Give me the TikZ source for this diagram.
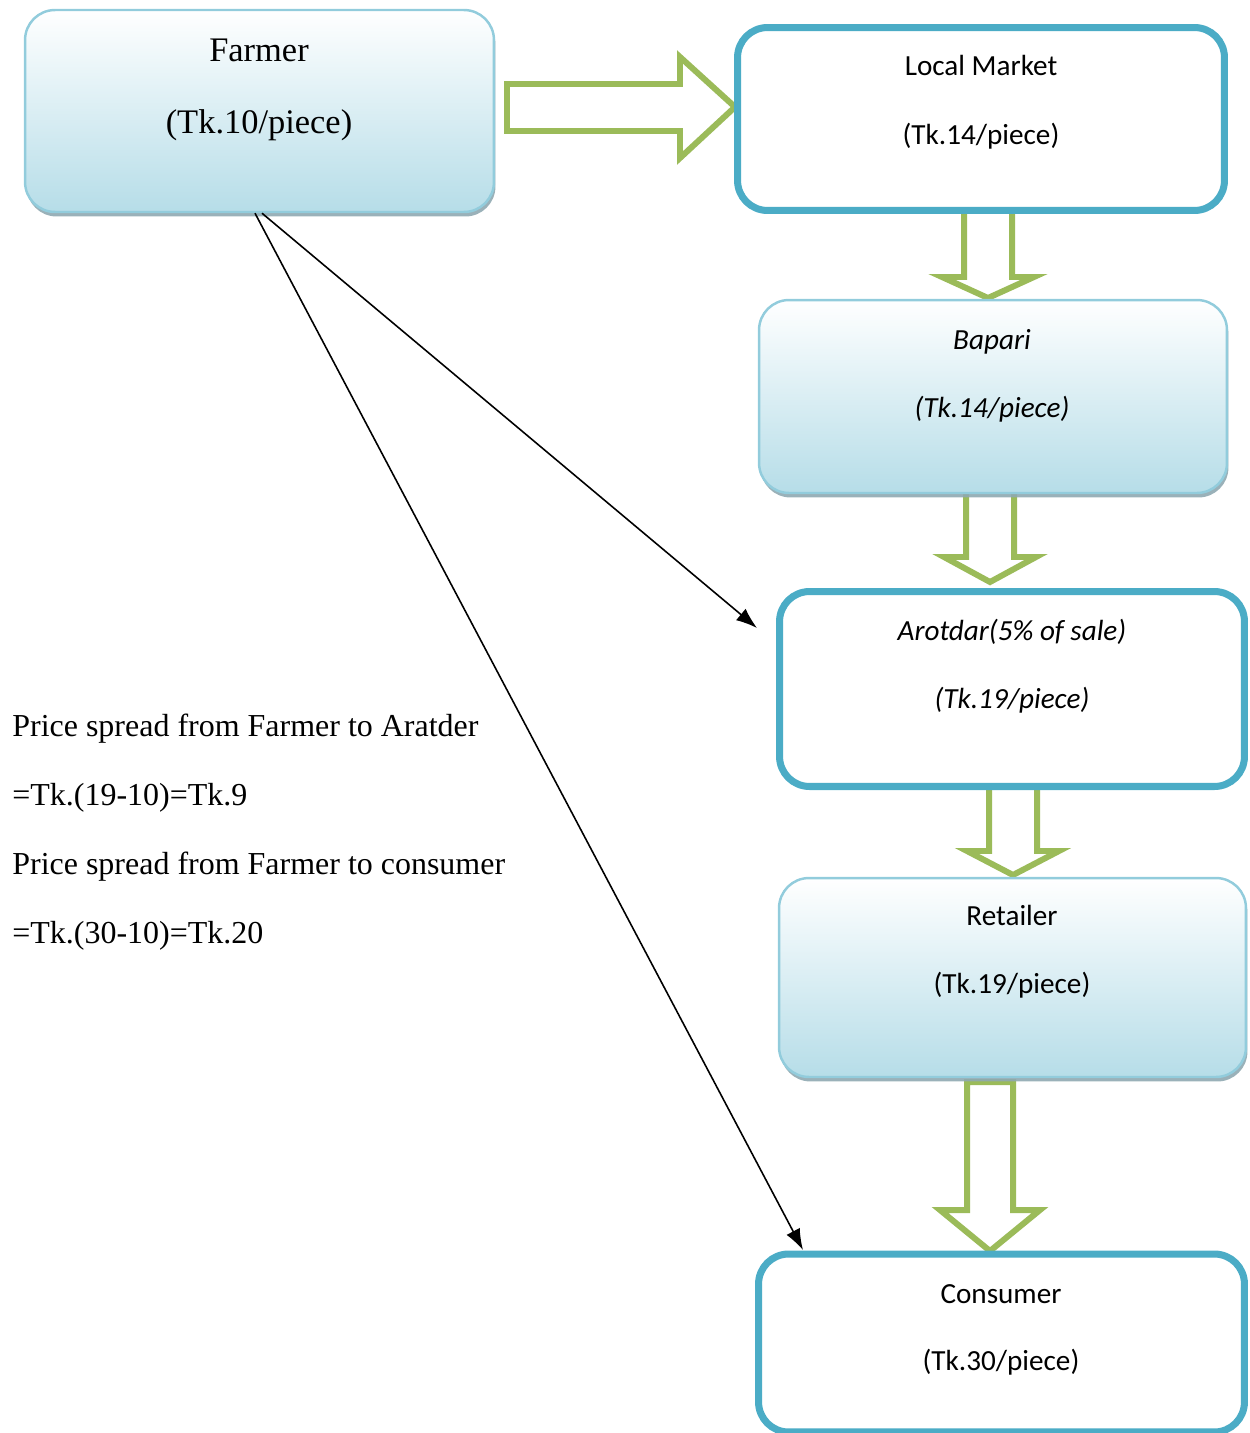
\documentclass[tikz,border=0pt]{standalone}
\usepackage{fontspec}
\setmainfont{Liberation Serif}
\newfontfamily\calibri{Carlito}
\usetikzlibrary{arrows.meta,shadows}
\definecolor{accblue}{HTML}{4BACC6}
\definecolor{lightbord}{HTML}{92CCDC}
\definecolor{gradbot}{HTML}{B6DDE8}
\definecolor{gradmid}{HTML}{DCEFF4}
\definecolor{leafgreen}{HTML}{9BBB59}
\definecolor{shadowgray}{HTML}{8FA9B1}
\tikzset{
  gradbox/.style={draw=lightbord, line width=1.4pt, rounded corners=0.6cm,
    top color=white, middle color=gradmid, bottom color=gradbot,
    drop shadow={shadow xshift=0.03cm, shadow yshift=-0.09cm, fill=shadowgray, opacity=0.9}},
  thickbox/.style={draw=accblue, line width=4pt, rounded corners=0.6cm, fill=white},
  blockarrow/.style={draw=leafgreen, line width=3.4pt, fill=white, miter limit=20},
  conn/.style={line width=0.9pt, -{Latex[length=0.42cm,width=0.3cm]}},
  serifbig/.style={font=\fontsize{19.6}{23}\selectfont, anchor=base, inner sep=0pt},
  sans/.style={font=\calibri\fontsize{16.6}{20}\selectfont, anchor=base, inner sep=0pt},
  sansit/.style={font=\calibri\itshape\fontsize{16.6}{20}\selectfont, anchor=base, inner sep=0pt},
  spread/.style={font=\fontsize{18.2}{22}\selectfont, anchor=base west, inner sep=0pt}
}
\begin{document}
\begin{tikzpicture}[x=0.02cm,y=-0.02cm]
\useasboundingbox (0,0) rectangle (1249,1433);

% block arrows (drawn first, boxes overlap their ends)
\draw[blockarrow] (507,84) -- (680,84) -- (680,57) -- (735,107) -- (680,158) -- (680,131) -- (507,131) -- cycle;
\draw[blockarrow] (964,208) -- (1012,208) -- (1012,277) -- (1034,277) -- (988,298) -- (942,277) -- (964,277) -- cycle;
\draw[blockarrow] (966,490) -- (1014,490) -- (1014,557) -- (1036,557) -- (990,582) -- (944,557) -- (966,557) -- cycle;
\draw[blockarrow] (989,784) -- (1037,784) -- (1037,851) -- (1059,851) -- (1013,875) -- (967,851) -- (989,851) -- cycle;
\draw[blockarrow] (967,1082) -- (1013,1082) -- (1013,1210) -- (1040,1210) -- (990,1251) -- (940,1210) -- (967,1210) -- cycle;

% boxes
\node[gradbox, minimum width=9.38cm, minimum height=4.04cm] (farmer) at (259.5,111) {};
\node[thickbox, minimum width=9.74cm, minimum height=3.66cm] (local) at (981,119) {};
\node[gradbox, minimum width=9.36cm, minimum height=3.86cm] (bapari) at (993,396.5) {};
\node[thickbox, minimum width=9.3cm, minimum height=3.9cm] (arotdar) at (1012,689) {};
\node[gradbox, minimum width=9.34cm, minimum height=3.98cm] (retailer) at (1012.5,977.5) {};
\node[thickbox, minimum width=9.72cm, minimum height=3.56cm] (consumer) at (1001.5,1343) {};

% box texts
\node[serifbig] (farmerA) at (259,62) {Farmer};
\node[serifbig] (farmerB) at (259,133) {(Tk.10/piece)};
\node[sans] (localA) at (981,76) {Local Market};
\node[sans] (localB) at (981,144) {(Tk.14/piece)};
\node[sansit] (bapariA) at (992,349) {Bapari};
\node[sansit] (bapariB) at (992,417) {(Tk.14/piece)};
\node[sansit] (arotdarA) at (1012,640) {Arotdar(5\% of sale)};
\node[sansit] (arotdarB) at (1012,708) {(Tk.19/piece)};
\node[sans] (retailerA) at (1012,925) {Retailer};
\node[sans] (retailerB) at (1012,993) {(Tk.19/piece)};
\node[sans] (consumerA) at (1001,1303) {Consumer};
\node[sans] (consumerB) at (1001,1370) {(Tk.30/piece)};

% price spread text
\node[spread] (ps1) at (12,736) {Price spread from Farmer to Aratder};
\node[spread] (ps2) at (12,805) {=Tk.(19-10)=Tk.9};
\node[spread] (ps3) at (12,874) {Price spread from Farmer to consumer};
\node[spread] (ps4) at (12,943) {=Tk.(30-10)=Tk.20};

% black connectors
\coordinate (tipA) at (757,628);
\coordinate (tipC) at (803,1250);
\draw[conn] ([xshift=0.05cm]farmer.south) -- (tipA);
\draw[conn] ([xshift=-0.09cm]farmer.south) -- (tipC);
\end{tikzpicture}
\end{document}
